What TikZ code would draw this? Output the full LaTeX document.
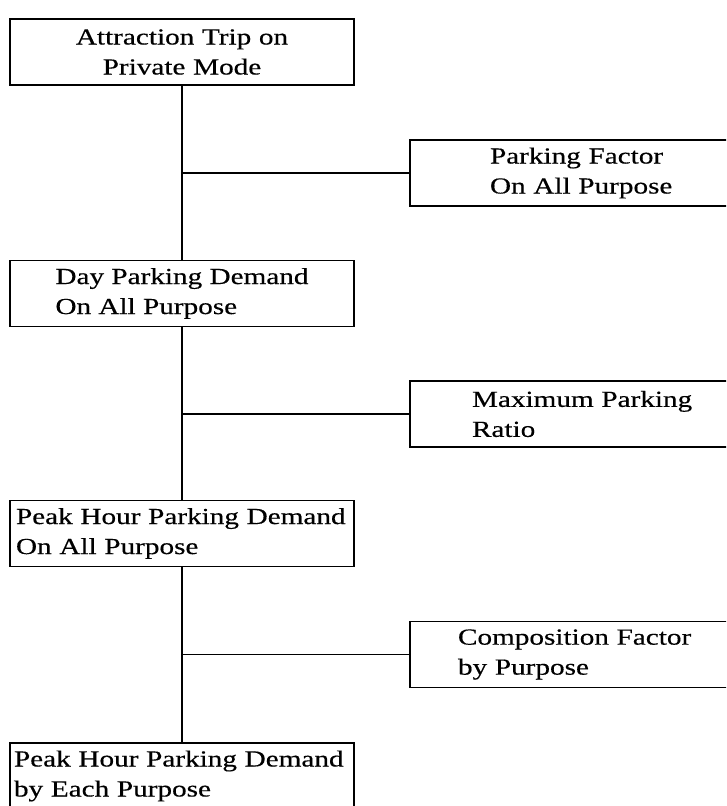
\documentclass[tikz,border=0pt]{standalone}
\usepackage{fontspec}
\newfontfamily\scanfont[FakeStretch=1.27,FakeBold=0.4]{Liberation Serif}
\usetikzlibrary{positioning}
\tikzset{every picture/.style={line width=0.75pt}}
\tikzset{
  stepbox/.style={draw, line width=1.2pt, minimum height=66pt,
    font=\scanfont\fontsize{23}{30}\selectfont},
  trunk/.style={line width=1.6pt},
  branch/.style={line width=1.1pt},
}

\begin{document}
\begin{tikzpicture}[x=1pt,y=-1pt]
    \useasboundingbox (0,0) rectangle (726,806);
    \clip (0,0) rectangle (726,806);

    % main column
    \node[stepbox, text width=330pt, inner xsep=7pt, align=center] (trip) at (182,52) {Attraction Trip on\\Private Mode};
    \node[stepbox, minimum width=344pt, align=left] (day) at (182,293.5) {Day Parking Demand\\On All Purpose};
    \node[stepbox, text width=332pt, inner xsep=6pt, align=left] (peak) at (182,533.5) {Peak Hour Parking Demand\\On All Purpose};
    \node[stepbox, text width=336pt, inner xsep=4pt, align=left] (each) at (182,776) {Peak Hour Parking Demand\\by Each Purpose};

    % factors
    \node[stepbox, text width=200pt, inner xsep=80pt, align=left] (factor) at (590,173) {Parking Factor\\On All Purpose};
    \node[stepbox, text width=236pt, inner xsep=62pt, align=left] (ratio) at (590,414) {Maximum Parking\\Ratio};
    \node[stepbox, text width=264pt, inner xsep=48pt, align=left] (comp) at (590,654.5) {Composition Factor\\by Purpose};

    % links
    \draw[trunk] (trip) -- (day);
    \draw[trunk] (day) -- (peak);
    \draw[trunk] (peak) -- (each);
    \draw[branch] (factor.west) -- (factor.west -| trip.south);
    \draw[branch] (ratio.west) -- (ratio.west -| day.south);
    \draw[branch] (comp.west) -- (comp.west -| peak.south);
\end{tikzpicture}
\end{document}
